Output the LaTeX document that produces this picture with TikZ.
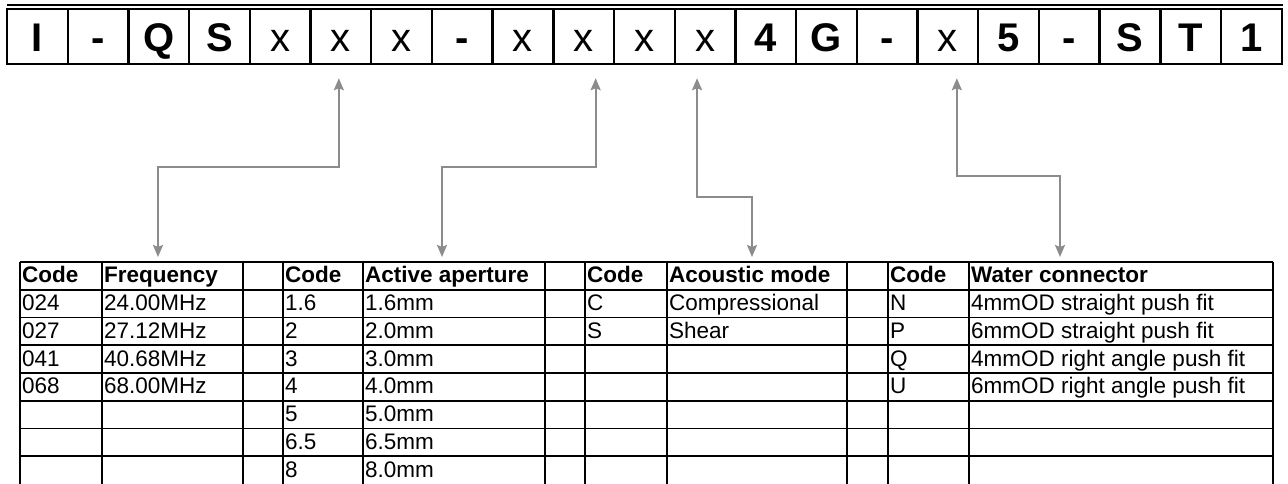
\documentclass[tikz,border=0pt]{standalone}
\usepackage{fontspec}
\setmainfont{Liberation Sans}
\usetikzlibrary{arrows.meta}
\definecolor{linkgray}{RGB}{140,140,140}

\begin{document}
\begin{tikzpicture}[x=1pt, y=-1pt, code node/.style={draw, line width=2.4pt, minimum width=60.7pt, minimum height=55pt, inner sep=0pt, text height=30pt, text depth=0pt, font=\fontsize{40}{44}\selectfont\bfseries}, spare node/.style={code node, font=\fontsize{40}{44}\selectfont}, table text/.style={anchor=west, inner sep=0pt, text height=18pt, text depth=4pt, font=\fontsize{22.5}{26}\selectfont}, head text/.style={table text, font=\fontsize{22.5}{26}\selectfont\bfseries}, table line/.style={draw=black, line width=1.8pt}, link/.style={draw=linkgray, line width=2pt, {Stealth[length=12pt,width=10pt,inset=2pt]}-{Stealth[length=12pt,width=10pt,inset=2pt]}}]%
\useasboundingbox (0,0) rectangle (1288,484);
\begin{scope}
\draw[line width=2.4pt] (7,5) -- (1283,5);
\node[code node] (c0) at (37.35,36.5) {I};%1
\node[code node] (c1) at (98.05,36.5) {-};%2
\node[code node] (c2) at (158.75,36.5) {Q};%3
\node[code node] (c3) at (219.45,36.5) {S};%4
\node[spare node] (c4) at (280.15,36.5) {x};%5
\node[spare node] (c5) at (340.85,36.5) {x};%6
\node[spare node] (c6) at (401.55,36.5) {x};%7
\node[code node] (c7) at (462.25,36.5) {-};%8
\node[spare node] (c8) at (522.95,36.5) {x};%9
\node[spare node] (c9) at (583.65,36.5) {x};%10
\node[spare node] (c10) at (644.35,36.5) {x};%11
\node[spare node] (c11) at (705.05,36.5) {x};%12
\node[code node] (c12) at (765.75,36.5) {4};%13
\node[code node] (c13) at (826.45,36.5) {G};%14
\node[code node] (c14) at (887.15,36.5) {-};%15
\node[spare node] (c15) at (947.85,36.5) {x};%16
\node[code node] (c16) at (1008.55,36.5) {5};%17
\node[code node] (c17) at (1069.25,36.5) {-};%18
\node[code node] (c18) at (1129.95,36.5) {S};%19
\node[code node] (c19) at (1190.65,36.5) {T};%20
\node[code node] (c20) at (1251.35,36.5) {1};%21
\end{scope}
%table grid
\draw[table line] (20,262) -- (1273,262) (20,289.75) -- (1273,289.75) (20,317.5) -- (1273,317.5) (20,345.25) -- (1273,345.25);
\draw[table line] (20,373) -- (1273,373) (20,400.75) -- (1273,400.75) (20,428.5) -- (1273,428.5) (20,456.25) -- (1273,456.25);
\draw[table line] (20,262) -- (20,484) (102,262) -- (102,484) (243,262) -- (243,484) (283,262) -- (283,484);
\draw[table line] (363,262) -- (363,484) (545,262) -- (545,484) (585,262) -- (585,484) (667,262) -- (667,484);
\draw[table line] (847,262) -- (847,484) (888,262) -- (888,484) (969,262) -- (969,484) (1273,262) -- (1273,484);
\begin{scope}
\node[head text] (hcode1) at (22,275.9) {Code};
\node[head text] (hfreq) at (104,275.9) {Frequency};
\node[head text] (hcode2) at (285,275.9) {Code};
\node[head text] (hap) at (365,275.9) {Active aperture};
\node[head text] (hcode3) at (587,275.9) {Code};
\node[head text] (hmode) at (669,275.9) {Acoustic mode};
\node[head text] (hcode4) at (890,275.9) {Code};
\node[head text] (hwater) at (971,275.9) {Water connector};
%frequency
\node[table text] (f1) at (22,303.6) {024};
\node[table text] (f1v) at (104,303.6) {24.00MHz};
\node[table text] (f2) at (22,331.4) {027};
\node[table text] (f2v) at (104,331.4) {27.12MHz};
\node[table text] (f3) at (22,359.1) {041};
\node[table text] (f3v) at (104,359.1) {40.68MHz};
\node[table text] (f4) at (22,386.9) {068};
\node[table text] (f4v) at (104,386.9) {68.00MHz};
%aperture
\node[table text] (a1) at (285,303.6) {1.6};
\node[table text] (a1v) at (365,303.6) {1.6mm};
\node[table text] (a2) at (285,331.4) {2};
\node[table text] (a2v) at (365,331.4) {2.0mm};
\node[table text] (a3) at (285,359.1) {3};
\node[table text] (a3v) at (365,359.1) {3.0mm};
\node[table text] (a4) at (285,386.9) {4};
\node[table text] (a4v) at (365,386.9) {4.0mm};
\node[table text] (a5) at (285,414.6) {5};
\node[table text] (a5v) at (365,414.6) {5.0mm};
\node[table text] (a6) at (285,442.4) {6.5};
\node[table text] (a6v) at (365,442.4) {6.5mm};
\node[table text] (a7) at (285,470.1) {8};
\node[table text] (a7v) at (365,470.1) {8.0mm};
%mode
\node[table text] (m1) at (587,303.6) {C};
\node[table text] (m1v) at (669,303.6) {Compressional};
\node[table text] (m2) at (587,331.4) {S};
\node[table text] (m2v) at (669,331.4) {Shear};
%water
\node[table text] (w1) at (890,303.6) {N};
\node[table text] (w1v) at (971,303.6) {4mmOD straight push fit};
\node[table text] (w2) at (890,331.4) {P};
\node[table text] (w2v) at (971,331.4) {6mmOD straight push fit};
\node[table text] (w3) at (890,359.1) {Q};
\node[table text] (w3v) at (971,359.1) {4mmOD right angle push fit};
\node[table text] (w4) at (890,386.9) {U};
\node[table text] (w4v) at (971,386.9) {6mmOD right angle push fit};
\end{scope}
%links
\coordinate (l1top) at ([xshift=-2pt, yshift=-13pt]c5.south);
\coordinate (l1mid) at (158,167);
\coordinate (l1bot) at (158,257);
\coordinate (l2top) at ([xshift=12pt, yshift=-13pt]c9.south);
\coordinate (l2mid) at (442,167);
\coordinate (l2bot) at (442,257);
\coordinate (l3top) at ([xshift=-8pt, yshift=-13pt]c11.south);
\coordinate (l3mid) at (752,197);
\coordinate (l3bot) at (752,257);
\coordinate (l4top) at ([xshift=9pt, yshift=-13pt]c15.south);
\coordinate (l4mid) at (1060,176);
\coordinate (l4bot) at (1060,257);
\draw[link] (l1top) |- (l1mid) -- (l1bot);
\draw[link] (l2top) |- (l2mid) -- (l2bot);
\draw[link] (l3top) |- (l3mid) -- (l3bot);
\draw[link] (l4top) |- (l4mid) -- (l4bot);
\end{tikzpicture}
\end{document}
